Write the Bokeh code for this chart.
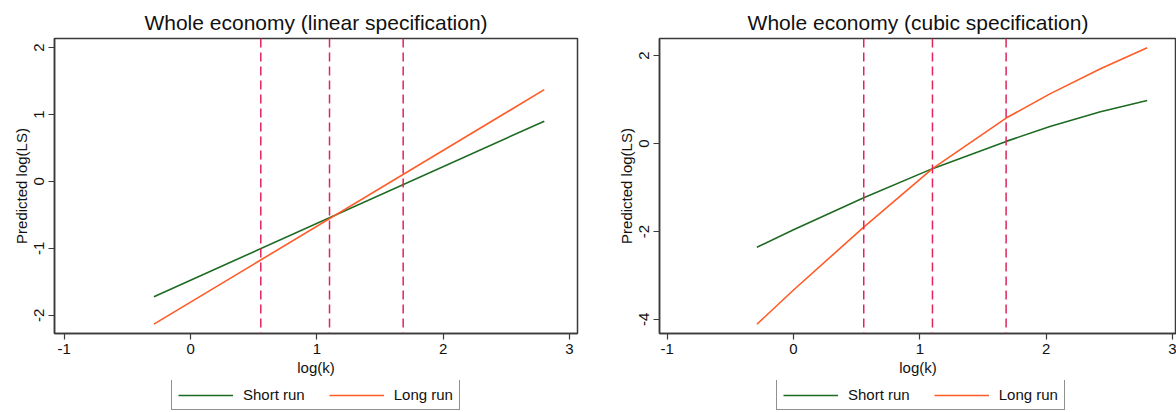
from bokeh.plotting import figure
from bokeh.models import Range1d, Span, Legend, LegendItem
from bokeh.layouts import row, column
from bokeh.embed import file_html
from bokeh.resources import INLINE

FONT = "Liberation Sans"

# ---- data ----
cutoffs = [0.556, 1.10, 1.683]          # vertical dashed lines (log k)
x_ticks = [-1, 0, 1, 2, 3]

lin_x = [-0.29, 2.80]
lin_short = [-1.72, 0.90]
lin_long = [-2.13, 1.37]
lin_yticks = [-2, -1, 0, 1, 2]

cub_x = [-0.29, 0.0, 0.556, 1.10, 1.683, 2.03, 2.43, 2.80]
cub_short = [-2.36, -1.96, -1.23, -0.57, 0.05, 0.39, 0.725, 0.98]
cub_long = [-4.11, -3.33, -1.90, -0.57, 0.58, 1.13, 1.70, 2.18]
cub_yticks = [-4, -2, 0, 2]

series_labels = ["Short run", "Long run"]

GREEN = "#1d6b22"
ORANGE = "#ff5b26"
DASH = "#e0245a"
FRAME = "#3a3a3a"

TOP_H = 380
LEG_H = 32


def panel(title, xs, ys_s, ys_l, yticks, xr, yr, width, mbl, mbr):
    p = figure(width=width, height=TOP_H, x_range=Range1d(*xr), y_range=Range1d(*yr),
               output_backend="svg", toolbar_location=None, title=title,
               min_border_left=mbl, min_border_right=mbr,
               min_border_top=38, min_border_bottom=47)
    p.title.text_font = FONT
    p.title.text_font_size = "21px"
    p.title.text_font_style = "normal"
    p.title.align = "center"
    p.title.text_color = "#111111"
    p.xgrid.visible = False
    p.ygrid.visible = False
    p.outline_line_color = FRAME
    p.outline_line_width = 1.5
    p.outline_line_alpha = 1.0

    for v in cutoffs:
        p.add_layout(Span(location=v, dimension="height", line_color=DASH,
                          line_dash="9 5", line_width=1.5))

    p.line(xs, ys_s, line_color=GREEN, line_width=1.6)
    p.line(xs, ys_l, line_color=ORANGE, line_width=1.6)

    for ax in (p.xaxis[0], p.yaxis[0]):
        ax.axis_line_color = FRAME
        ax.axis_line_width = 1.5
        ax.major_tick_line_color = FRAME
        ax.major_tick_line_width = 1.2
        ax.major_tick_out = 6
        ax.major_tick_in = 0
        ax.minor_tick_out = 0
        ax.minor_tick_in = 0
        ax.major_label_text_font = FONT
        ax.major_label_text_font_size = "15px"
        ax.major_label_text_color = "#111111"
        ax.axis_label_text_font = FONT
        ax.axis_label_text_font_size = "15px"
        ax.axis_label_text_font_style = "normal"
        ax.axis_label_text_color = "#111111"
        ax.major_label_standoff = 4
        ax.axis_label_standoff = 2

    p.xaxis.ticker = x_ticks
    p.xaxis.major_label_overrides = {t: str(t) for t in x_ticks}
    p.xaxis.axis_label = "log(k)"
    p.yaxis.ticker = yticks
    p.yaxis.major_label_overrides = {t: str(t) for t in yticks}
    p.yaxis.major_label_orientation = "vertical"
    p.yaxis.axis_label = "Predicted log(LS)"
    return p


def legend_strip(width, xs, ys_s, ys_l, left_px):
    # small figure whose only visible content is the legend; ranges exclude the data
    q = figure(width=width, height=LEG_H, x_range=Range1d(100, 101), y_range=Range1d(100, 101),
               output_backend="svg", toolbar_location=None,
               min_border_left=0, min_border_right=0, min_border_top=0, min_border_bottom=0)
    q.axis.visible = False
    q.xgrid.visible = False
    q.ygrid.visible = False
    q.outline_line_color = None
    r1 = q.line(xs, ys_s, line_color=GREEN, line_width=1.6)
    r2 = q.line(xs, ys_l, line_color=ORANGE, line_width=1.6)
    legend = Legend(items=[LegendItem(label=series_labels[0], renderers=[r1]),
                           LegendItem(label=series_labels[1], renderers=[r2])],
                    orientation="horizontal", location=(left_px, 2),
                    glyph_width=55, glyph_height=14, label_standoff=10,
                    spacing=24, padding=6, margin=0,
                    label_text_font=FONT, label_text_font_size="15px",
                    label_text_color="#111111",
                    border_line_color="#222222", border_line_width=1.2,
                    background_fill_color="white")
    q.add_layout(legend, "center")
    return q


left = panel("Whole economy (linear specification)", lin_x, lin_short, lin_long,
             lin_yticks, (-1.077, 3.063), (-2.27, 2.134), 600, 54, 23)
right = panel("Whole economy (cubic specification)", cub_x, cub_short, cub_long,
              cub_yticks, (-1.061, 3.032), (-4.32, 2.39), 576, 59, 0)
leg_l = legend_strip(600, lin_x, lin_short, lin_long, 171)
leg_r = legend_strip(576, cub_x, cub_short, cub_long, 176)

layout = column(row(left, right, spacing=0), row(leg_l, leg_r, spacing=0), spacing=0)
open("out.html", "w").write(file_html(layout, INLINE))
